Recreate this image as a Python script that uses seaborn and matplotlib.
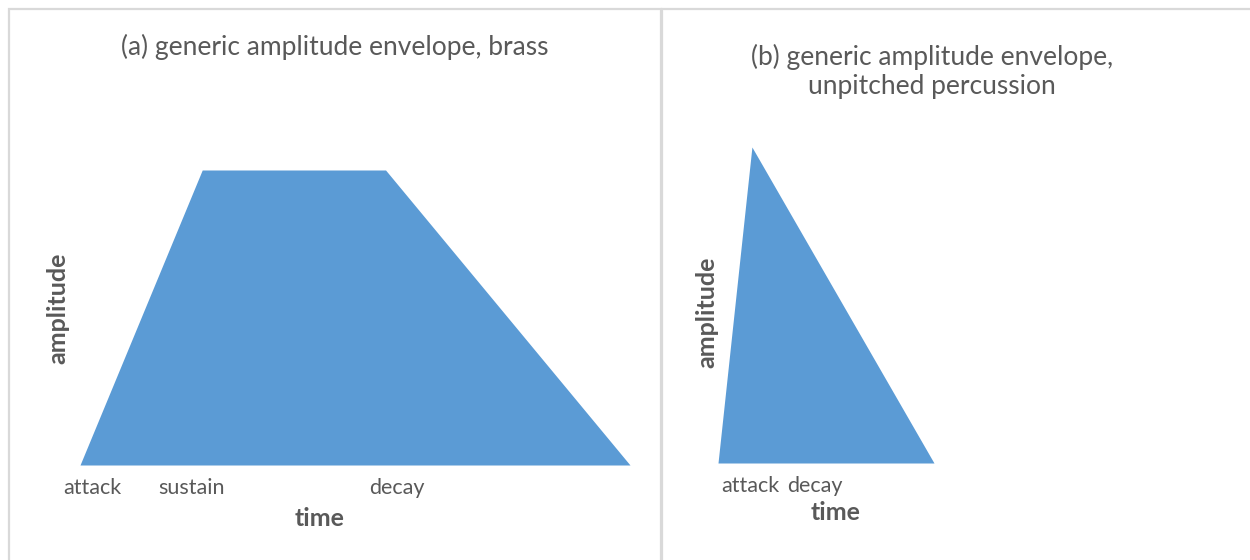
import matplotlib
matplotlib.use("Agg")
import matplotlib.pyplot as plt
import seaborn as sns
from matplotlib.patches import Rectangle

# panel (a): brass envelope
brass_time = [0, 2, 5, 9]
brass_amp = [0, 1, 1, 0]
brass_ticks = [0.21, 1.82, 5.18]
brass_labels = ["attack", "sustain", "decay"]

# panel (b): unpitched percussion envelope
perc_time = [0, 0.157, 1.0]
perc_amp = [0, 1, 0]
perc_ticks = [0.148, 0.449]
perc_labels = ["attack", "decay"]

titles = ["(a) generic amplitude envelope, brass",
          "(b) generic amplitude envelope,\nunpitched percussion"]

sns.set_style("white")
plt.rcParams["font.family"] = ["Lato", "DejaVu Sans"]

fill_col = "#5B9BD5"
text_col = "#595959"
border_col = "#D9D9D9"

fig = plt.figure(figsize=(12.5, 5.6), dpi=100)

# panel borders
fig.patches.append(Rectangle((9 / 1250, -0.1), 652 / 1250, 1.1 - 9 / 560,
                             transform=fig.transFigure, fill=False,
                             edgecolor=border_col, linewidth=1.6))
fig.patches.append(Rectangle((662 / 1250, -0.1), 0.6, 1.1 - 9 / 560,
                             transform=fig.transFigure, fill=False,
                             edgecolor=border_col, linewidth=1.6))

ax1 = fig.add_axes([80 / 1250, 95 / 560, 550 / 1250, 295 / 560])
ax2 = fig.add_axes([718 / 1250, 97 / 560, 216 / 1250, 316 / 560])

panels = [
    (ax1, brass_time, brass_amp, brass_ticks, brass_labels, (0, 9)),
    (ax2, perc_time, perc_amp, perc_ticks, perc_labels, (0, 1.0)),
]

for ax, t, a, ticks, labels, xlim in panels:
    sns.lineplot(x=t, y=a, ax=ax, color=fill_col, linewidth=0)
    ax.fill_between(t, a, 0, color=fill_col, linewidth=0)
    ax.set_xlim(*xlim)
    ax.set_ylim(0, 1)
    ax.set_xticks(ticks)
    ax.set_xticklabels(labels, fontsize=15.5, color=text_col)
    ax.set_yticks([])
    ax.tick_params(axis="x", length=0, pad=9)
    for s in ax.spines.values():
        s.set_visible(False)
    ax.patch.set_alpha(0)

lab = dict(fontsize=18, fontweight="bold", color=text_col, va="center", ha="center")
ax1.set_xlabel("time", **lab)
ax1.set_ylabel("amplitude", **lab)
ax1.xaxis.set_label_coords(0.436, -0.18)
ax1.yaxis.set_label_coords(-0.04, 0.532)
ax2.set_xlabel("time", **lab)
ax2.set_ylabel("amplitude", **lab)
ax2.xaxis.set_label_coords(0.546, -0.158)
ax2.yaxis.set_label_coords(-0.051, 0.478)

fig.text(335 / 1250, 1 - 47 / 560, titles[0], ha="center", va="center",
         fontsize=19, color=text_col)
fig.text(932 / 1250, 1 - 71 / 560, titles[1], ha="center", va="center",
         fontsize=19, color=text_col, linespacing=1.2)

fig.savefig("out.png", dpi=100)
